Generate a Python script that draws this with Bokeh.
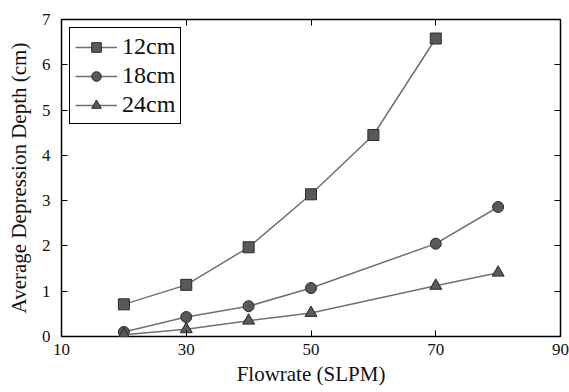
from bokeh.plotting import figure
from bokeh.models import LinearAxis, FixedTicker, Range1d
from bokeh.embed import file_html
from bokeh.resources import INLINE

flow_12 = [20, 30, 40, 50, 60, 70]
depth_12 = [0.71, 1.14, 1.97, 3.14, 4.45, 6.58]
flow_18 = [20, 30, 40, 50, 70, 80]
depth_18 = [0.10, 0.43, 0.67, 1.07, 2.05, 2.86]
flow_24 = [20, 30, 40, 50, 70, 80]
depth_24 = [0.04, 0.16, 0.35, 0.52, 1.12, 1.41]
x_ticks = [10, 30, 50, 70, 90]
y_ticks = [0, 1, 2, 3, 4, 5, 6, 7]

FONT = "Liberation Serif"
FILL = "#595959"
EDGE = "#2a2a2a"
LINE = "#707070"

p = figure(width=569, height=392, output_backend="svg", toolbar_location=None,
           x_range=Range1d(10, 90), y_range=Range1d(0, 7),
           min_border_left=61, min_border_right=9, min_border_top=19, min_border_bottom=56)
p.xgrid.visible = False
p.ygrid.visible = False
p.outline_line_color = "black"
p.outline_line_width = 1.5

def style_axis(ax, ticks):
    ax.ticker = FixedTicker(ticks=ticks)
    ax.axis_line_color = None
    ax.major_tick_in = 6
    ax.major_tick_out = 0
    ax.major_tick_line_color = "black"
    ax.minor_tick_line_color = None
    ax.major_label_text_font = FONT
    ax.major_label_text_font_size = "17px"
    ax.major_label_text_color = "#111111"
    ax.axis_label_text_font = FONT
    ax.axis_label_text_font_size = "21px"
    ax.axis_label_text_font_style = "normal"
    ax.axis_label_text_color = "#111111"

xb = p.xaxis[0]
xb.axis_label = "Flowrate (SLPM)"
style_axis(xb, x_ticks)
xb.major_label_standoff = 7
xb.axis_label_standoff = 4

yl = p.yaxis[0]
yl.axis_label = "Average Depression Depth (cm)"
style_axis(yl, y_ticks)
yl.major_label_standoff = 11
yl.axis_label_standoff = 8

xt = LinearAxis()
style_axis(xt, x_ticks)
xt.major_label_overrides = {t: "" for t in x_ticks}
xt.major_label_standoff = 0
p.add_layout(xt, "above")
yr = LinearAxis()
style_axis(yr, y_ticks)
yr.major_label_overrides = {t: "" for t in y_ticks}
yr.major_label_standoff = 0
p.add_layout(yr, "right")

series = [
    ("12cm", flow_12, depth_12, "square", 11),
    ("18cm", flow_18, depth_18, "circle", 11),
    ("24cm", flow_24, depth_24, "triangle", 12),
]
for name, xs, ys, marker, size in series:
    p.line(xs, ys, line_color=LINE, line_width=1.5, legend_label=name)
    p.scatter(xs, ys, marker=marker, size=size, fill_color=FILL,
              line_color=EDGE, line_width=1, legend_label=name)

legend = p.legend[0]
legend.location = "top_left"
legend.label_text_font = FONT
legend.label_text_font_size = "24px"
legend.label_text_color = "#111111"
legend.border_line_color = "black"
legend.border_line_width = 1.5
legend.border_line_alpha = 1
legend.background_fill_alpha = 1
legend.glyph_width = 42
legend.glyph_height = 24
legend.label_height = 24
legend.spacing = 2
legend.padding = 5
legend.margin = 8
legend.label_standoff = 5

open("out.html", "w").write(file_html(p, INLINE))
